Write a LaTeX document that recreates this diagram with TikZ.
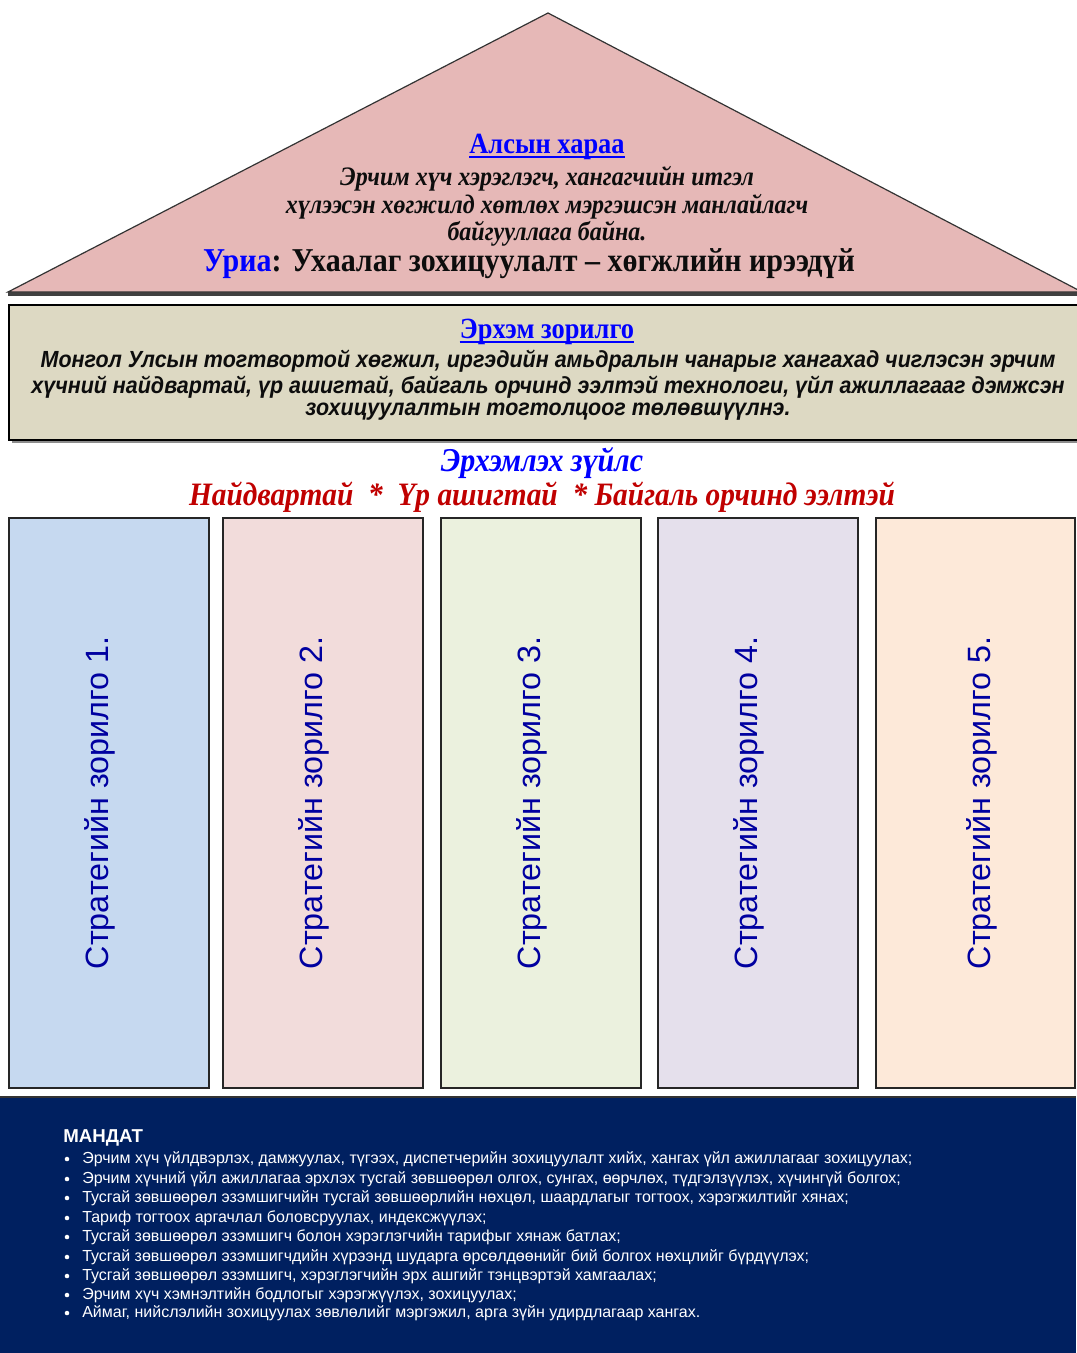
\documentclass[tikz,border=0pt]{standalone}
\usepackage{fontspec}
\setmainfont{Liberation Serif}
\setsansfont{Liberation Sans}
\newfontfamily\condserif[FakeStretch=0.9]{Liberation Serif}
\newfontfamily\condsans[FakeStretch=0.92]{Liberation Sans}
\definecolor{roofpink}{HTML}{E6B8B7}
\definecolor{missionbg}{HTML}{DDD9C3}
\definecolor{colA}{HTML}{C6D9F0}
\definecolor{colB}{HTML}{F2DCDB}
\definecolor{colC}{HTML}{EBF1DE}
\definecolor{colD}{HTML}{E5E0EC}
\definecolor{colE}{HTML}{FDE9D9}
\definecolor{navybg}{HTML}{002060}
\definecolor{titleblue}{HTML}{0000FF}
\definecolor{colblue}{HTML}{0000A0}
\definecolor{valred}{HTML}{C00000}
\tikzset{
  pillar/.style={draw=black!85, line width=1.1pt},
  pillartext/.style={rotate=90, anchor=base, text=colblue, font=\sffamily\fontsize{24.2}{28}\selectfont},
  roofline/.style={font=\condserif\bfseries\itshape\fontsize{20}{24}\selectfont, text=black!95, anchor=center, inner sep=0pt},
  missionline/.style={font=\condsans\bfseries\itshape\fontsize{17.5}{20}\selectfont, text=black!95, anchor=center, inner sep=0pt},
  mandline/.style={font=\sffamily\fontsize{12}{14}\selectfont, text=white, anchor=west, inner sep=0pt},
  bulletdot/.style={circle, fill=white, inner sep=0pt, minimum size=3.4pt},
  bluetitle/.style={font=\condserif\bfseries\fontsize{22}{26}\selectfont, text=titleblue, inner sep=0pt},
  titlerule/.style={draw=titleblue, line width=1.9pt},
  valuetext/.style={font=\condserif\bfseries\itshape\fontsize{25}{29}\selectfont, inner sep=0pt},
}
\begin{document}
\begin{tikzpicture}[x=0.75pt, y=-0.75pt]
\useasboundingbox (0,0) rectangle (1076,1353);
% roof
\fill[black!75] (8,296) -- (1080,296) -- (1080,292) -- (8,292) -- cycle;
\filldraw[fill=roofpink, draw=black!80, line width=0.9pt] (548,13) -- (1082,292) -- (8,292) -- cycle;
\node[bluetitle] (vision) at (547,147) {Алсын хараа};
\draw[titlerule] ([yshift=-2.6pt]vision.base west) -- ([yshift=-2.6pt]vision.base east);
\node[roofline] (v1) at (547,179) {Эрчим хүч хэрэглэгч, хангагчийн итгэл};
\node[roofline] (v2) at (547,207) {хүлээсэн хөгжилд хөтлөх мэргэшсэн манлайлагч};
\node[roofline] (v3) at (547,234) {байгууллага байна.};
\node[font=\condserif\bfseries\fontsize{25}{29}\selectfont, text=black!95, inner sep=0pt] (slogan) at (529,264) {\textcolor{titleblue}{Уриа}: Ухаалаг зохицуулалт – хөгжлийн ирээдүй};
% mission box
\fill[black!45] (12,308) rectangle (1082,443);
\filldraw[fill=missionbg, draw=black, line width=1.6pt] (9,305) rectangle (1082,440);
\node[bluetitle] (mission) at (547,332) {Эрхэм зорилго};
\draw[titlerule] ([yshift=-2.6pt]mission.base west) -- ([yshift=-2.6pt]mission.base east);
\node[missionline] (m1) at (548,361) {Монгол Улсын тогтвортой хөгжил, иргэдийн амьдралын чанарыг хангахад чиглэсэн эрчим};
\node[missionline] (m2) at (548,387) {хүчний найдвартай, үр ашигтай, байгаль орчинд ээлтэй технологи, үйл ажиллагааг дэмжсэн};
\node[missionline] (m3) at (548,412) {зохицуулалтын тогтолцоог төлөвшүүлнэ.};
% values
\node[valuetext, text=titleblue] (values) at (542,463) {Эрхэмлэх зүйлс};
\node[valuetext, text=valred, font=\condserif\bfseries\itshape\fontsize{24.5}{29}\selectfont] (valuelist) at (542,497) {Найдвартай~ *~ Үр ашигтай~ * Байгаль орчинд ээлтэй};
% pillars
\filldraw[pillar, fill=colA] (9,518) rectangle (209,1088);
\filldraw[pillar, fill=colB] (223,518) rectangle (423,1088);
\filldraw[pillar, fill=colC] (441,518) rectangle (641,1088);
\filldraw[pillar, fill=colD] (658,518) rectangle (858,1088);
\filldraw[pillar, fill=colE] (876,518) rectangle (1075,1088);
\node[pillartext] (p1) at (108,803) {Стратегийн зорилго 1.};
\node[pillartext] (p2) at (322,803) {Стратегийн зорилго 2.};
\node[pillartext] (p3) at (540,803) {Стратегийн зорилго 3.};
\node[pillartext] (p4) at (757,803) {Стратегийн зорилго 4.};
\node[pillartext] (p5) at (990,803) {Стратегийн зорилго 5.};
% mandate
\fill[navybg] (0,1097) rectangle (1076,1353);
\draw[black!80, line width=1.2pt] (0,1097) -- (1076,1097);
\node[font=\sffamily\bfseries\fontsize{14}{16}\selectfont, text=white, anchor=west, inner sep=0pt] (mandate) at (63,1138) {МАНДАТ};
\foreach \y/\t [count=\i] in {
 1159/{Эрчим хүч үйлдвэрлэх, дамжуулах, түгээх, диспетчерийн зохицуулалт хийх, хангах үйл ажиллагааг зохицуулах;},
 1179/{Эрчим хүчний үйл ажиллагаа эрхлэх тусгай зөвшөөрөл олгох, сунгах, өөрчлөх, түдгэлзүүлэх, хүчингүй болгох;},
 1198/{Тусгай зөвшөөрөл эзэмшигчийн тусгай зөвшөөрлийн нөхцөл, шаардлагыг тогтоох, хэрэгжилтийг хянах;},
 1218/{Тариф тогтоох аргачлал боловсруулах, индексжүүлэх;},
 1237/{Тусгай зөвшөөрөл эзэмшигч болон хэрэглэгчийн тарифыг хянаж батлах;},
 1257/{Тусгай зөвшөөрөл эзэмшигчдийн хүрээнд шударга өрсөлдөөнийг бий болгох нөхцлийг бүрдүүлэх;},
 1276/{Тусгай зөвшөөрөл эзэмшигч, хэрэглэгчийн эрх ашгийг тэнцвэртэй хамгаалах;},
 1295/{Эрчим хүч хэмнэлтийн бодлогыг хэрэгжүүлэх, зохицуулах;},
 1313/{Аймаг, нийслэлийн зохицуулах зөвлөлийг мэргэжил, арга зүйн удирдлагаар хангах.}} {
  \node[bulletdot] (b\i) at (67,\y) {};
  \node[mandline] (t\i) at (82,\y) {\t};
}
\end{tikzpicture}
\end{document}
